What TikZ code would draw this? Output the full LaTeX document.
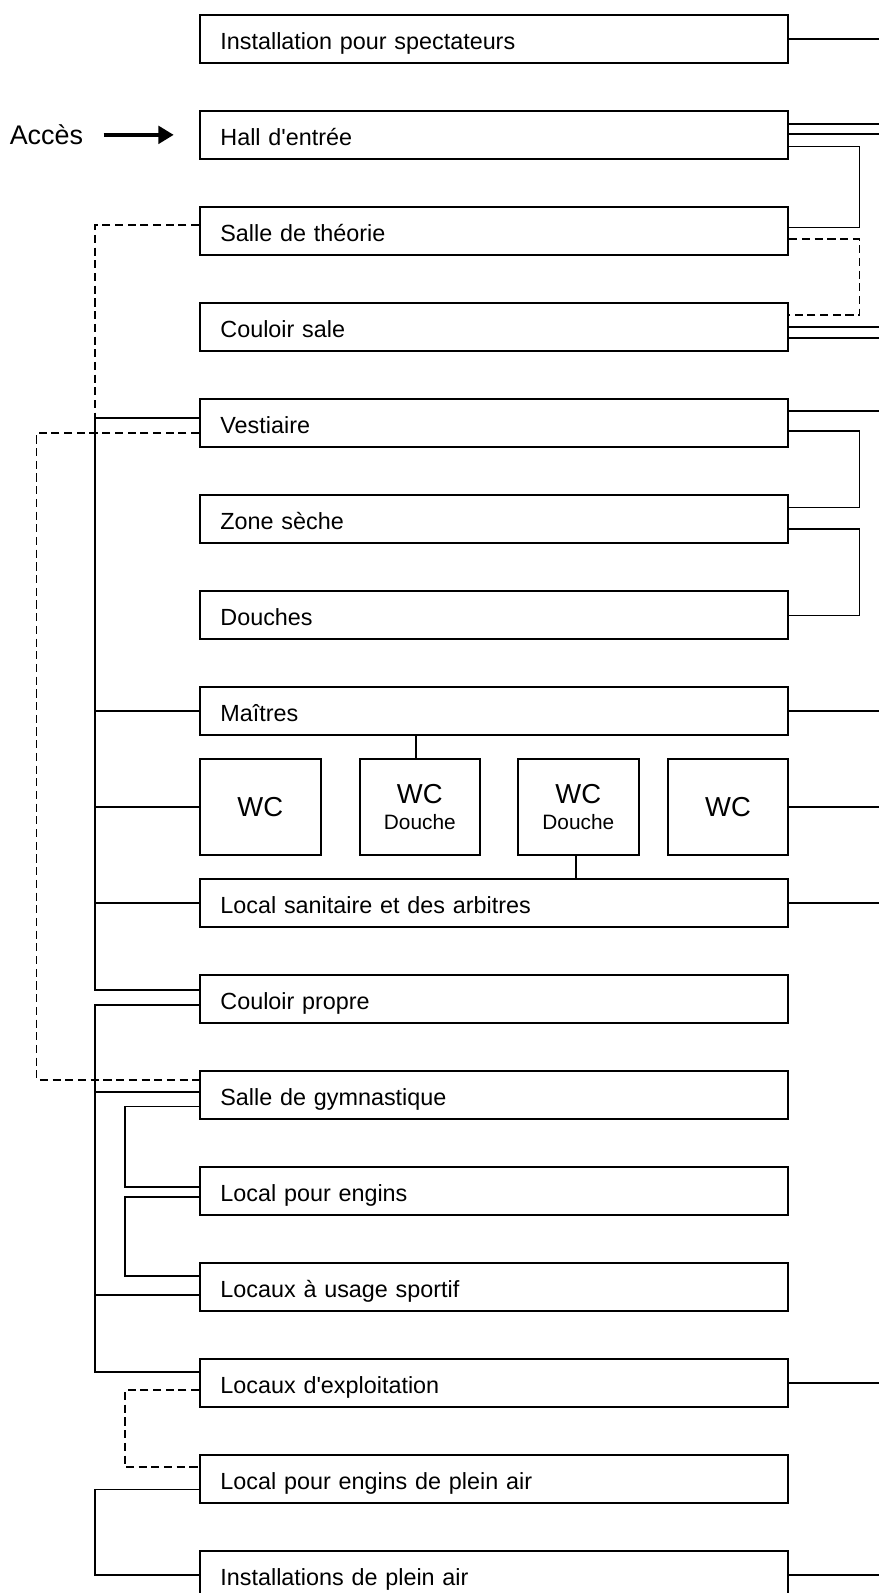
\documentclass[tikz,border=0pt]{standalone}
\usepackage{fontspec}
\setmainfont{Liberation Sans}
\usetikzlibrary{calc,positioning,arrows.meta}

\begin{document}
\begin{tikzpicture}[x=1pt, y=-1pt,
        room/.style={draw, line width=1.9pt, anchor=west,
            minimum width=579pt, minimum height=47.5pt,
            text width=539pt, inner xsep=20pt, inner ysep=0pt, align=left,
            text height=21.5pt, text depth=0pt, font=\fontsize{23}{27}\selectfont},
        wcbox/.style={draw, line width=1.9pt, anchor=west,
            minimum width=118.6pt, minimum height=95pt, inner sep=0pt,
            align=center, font=\fontsize{20.5}{25}\selectfont},
        link/.style={line width=1.8pt},
        weaklink/.style={line width=1.8pt, dash pattern=on 8pt off 4.5pt},
        access/.style={line width=3.8pt, -{Triangle[length=15pt, width=17pt]}}]
    \useasboundingbox (0,0) rectangle (865,1568);

    % rooms, one row every 94.5pt (row 8 holds the WC cells)
    \foreach \nom/\row/\txt in {
            spect/0/Installation pour spectateurs,
            hall/1/Hall d\textquotesingle entrée,
            theorie/2/Salle de théorie,
            csale/3/Couloir sale,
            vest/4/Vestiaire,
            seche/5/Zone sèche,
            douches/6/Douches,
            maitres/7/Maîtres,
            sanit/9/Local sanitaire et des arbitres,
            cpropre/10/Couloir propre,
            gym/11/Salle de gymnastique,
            engins/12/Local pour engins,
            sport/13/Locaux à usage sportif,
            exploit/14/Locaux d\textquotesingle exploitation,
            enginsair/15/Local pour engins de plein air,
            pleinair/16/Installations de plein air} {
        \node[room] (\nom) at (196, 38.25+94.5*\row) {\txt};
    }

    \node[wcbox] (wca) at (196, 794.5) {\fontsize{27}{25}\selectfont WC};
    \node[wcbox] (wcb) at (353, 794.5) {{\fontsize{27}{25}\selectfont WC}\\Douche};
    \node[wcbox] (wcc) at (509, 794.5) {{\fontsize{27}{25}\selectfont WC}\\Douche};
    \node[wcbox] (wcd) at (656.4, 794.5) {\fontsize{27}{25}\selectfont WC};

    \draw[link] ([xshift=-4pt]wcb.north) -- ([xshift=-4pt]wcb.north |- maitres.south);
    \draw[link] ([xshift=-2.5pt]wcc.south) -- ([xshift=-2.5pt]wcc.south |- sanit.north);

    % entrance
    \node[font=\fontsize{26.5}{30}\selectfont, inner sep=0pt,
        text height=19pt, text depth=0pt, left=114pt of hall] (acces) {Accès};
    \draw[access] ([xshift=20pt]acces.east) -- ([xshift=-25pt]hall.west);

    % columns for the connectors
    \coordinate (aussen) at (36,0);
    \coordinate (links) at (93.5,0);
    \coordinate (innen) at (123,0);
    \coordinate (rechts) at (846,0);
    \coordinate (rand) at (865,0);

    % right side
    \foreach \nom/\dy in {spect/0, hall/-11, hall/-1, csale/0, csale/11, vest/-11.4,
            maitres/0, wcd/0, sanit/0, exploit/0, pleinair/0}
        \draw[link] ($(\nom.east)+(0,\dy)$) -- ($(\nom.east -| rand)+(0,\dy)$);

    \foreach \von/\dya/\nach/\dyb in {hall/11.4/theorie/-3.3, vest/7.6/seche/-11.2,
            seche/9.8/douches/0.5}
        \draw[link] ($(\von.east)+(0,\dya)$) -| ($(\nach.east -| rechts)+(0,\dyb)$)
            -- ($(\nach.east)+(0,\dyb)$);
    \draw[weaklink] ($(theorie.east)+(0,8.2)$) -| ($(csale.east -| rechts)+(0,-11.3)$)
        -- ($(csale.east)+(0,-11.3)$);

    % left side
    \foreach \nom/\dy in {maitres/0, wca/0, sanit/0, gym/-2.5, sport/7.9}
        \draw[link] ($(\nom.west)+(0,\dy)$) -- ($(\nom.west -| links)+(0,\dy)$);

    \foreach \von/\dya/\nach/\dyb/\via in {vest/-5/cpropre/-9.2/links,
            cpropre/5.9/exploit/-11.1/links, gym/11.3/engins/-4.3/innen,
            engins/5.9/sport/-10.5/innen, enginsair/10.4/pleinair/0/links}
        \draw[link] ($(\von.west)+(0,\dya)$) -| ($(\nach.west -| \via)+(0,\dyb)$)
            -- ($(\nach.west)+(0,\dyb)$);

    \draw[weaklink] ($(theorie.west)+(0,-6)$) -| ($(vest.west -| links)+(0,-5)$);
    \draw[weaklink] ($(vest.west)+(0,9.8)$) -| ($(gym.west -| aussen)+(0,-15)$)
        -- ($(gym.west)+(0,-15)$);
    \draw[weaklink] ($(exploit.west)+(0,6.9)$) -| ($(enginsair.west -| innen)+(0,-11.5)$)
        -- ($(enginsair.west)+(0,-11.5)$);
\end{tikzpicture}
\end{document}
